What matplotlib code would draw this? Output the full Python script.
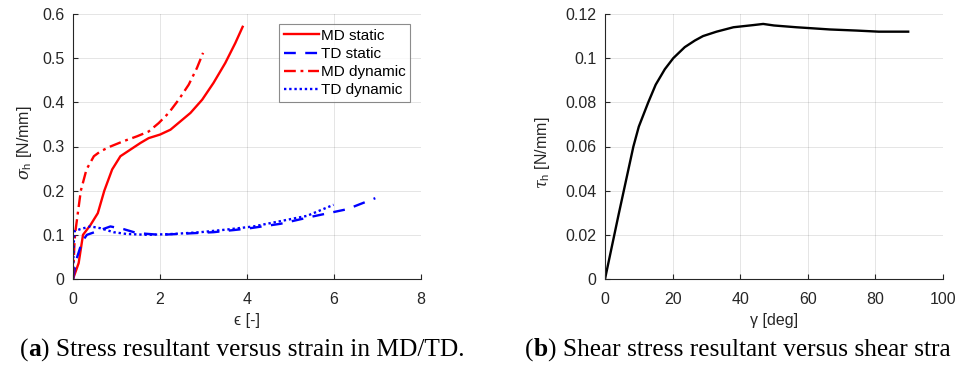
import matplotlib
matplotlib.use("Agg")
import matplotlib.pyplot as plt

# ---------------- data ----------------
md_static_x = [0, 0.13, 0.23, 0.40, 0.57, 0.72, 0.90, 1.09, 1.32, 1.55, 1.74, 2.0, 2.24, 2.47, 2.70, 2.97, 3.23, 3.50, 3.73, 3.90]
md_static_y = [0, 0.036, 0.100, 0.122, 0.149, 0.200, 0.248, 0.278, 0.293, 0.308, 0.319, 0.327, 0.338, 0.357, 0.376, 0.406, 0.444, 0.489, 0.534, 0.571]

md_dyn_x = [0, 0.03, 0.05, 0.18, 0.31, 0.48, 0.63, 0.86, 1.16, 1.47, 1.74, 1.97, 2.20, 2.43, 2.66, 2.85, 2.99]
md_dyn_y = [0, 0.074, 0.104, 0.200, 0.248, 0.278, 0.289, 0.300, 0.312, 0.323, 0.334, 0.353, 0.376, 0.406, 0.440, 0.478, 0.512]

td_static_x = [0, 0.077, 0.21, 0.32, 0.55, 0.86, 1.16, 1.47, 2.0, 2.62, 3.23, 4.0, 4.77, 5.53, 6.30, 6.95]
td_static_y = [0, 0.044, 0.085, 0.100, 0.108, 0.119, 0.113, 0.104, 0.100, 0.103, 0.106, 0.114, 0.125, 0.142, 0.158, 0.183]

td_dyn_x = [0, 0.015, 0.03, 0.17, 0.40, 0.63, 0.93, 1.23, 1.70, 2.31, 2.93, 3.54, 4.15, 4.77, 5.38, 5.99]
td_dyn_y = [0, 0.074, 0.108, 0.113, 0.119, 0.115, 0.106, 0.102, 0.100, 0.102, 0.106, 0.112, 0.119, 0.131, 0.143, 0.168]

shear_gamma = [0, 4, 8.4, 10, 12.8, 15, 17.7, 20.2, 23.6, 26.6, 29, 33, 38, 44, 46.8, 50, 56.6, 61.6, 66.5, 74.4, 81, 89.7]
shear_tau = [0, 0.029, 0.060, 0.069, 0.080, 0.088, 0.095, 0.100, 0.105, 0.108, 0.110, 0.112, 0.114, 0.115, 0.1155, 0.1148, 0.114, 0.1135, 0.113, 0.1125, 0.112, 0.112]

left_xticks = [0, 2, 4, 6, 8]
left_yticks = [0, 0.1, 0.2, 0.3, 0.4, 0.5, 0.6]
left_yticklabels = ["0", "0.1", "0.2", "0.3", "0.4", "0.5", "0.6"]
right_xticks = [0, 20, 40, 60, 80, 100]
right_yticks = [0, 0.02, 0.04, 0.06, 0.08, 0.10, 0.12]
right_yticklabels = ["0", "0.02", "0.04", "0.06", "0.08", "0.1", "0.12"]

legend_labels = ["MD static", "TD static", "MD dynamic", "TD dynamic"]

# ---------------- style ----------------
plt.rcParams['font.family'] = ['Liberation Sans', 'DejaVu Sans']
plt.rcParams['mathtext.fontset'] = 'custom'
plt.rcParams['mathtext.rm'] = 'Liberation Sans'
plt.rcParams['mathtext.it'] = 'DejaVu Serif:italic'
TXT = '#262626'

W, H = 968, 368
fig = plt.figure(figsize=(W / 100, H / 100), dpi=100)

def add_axes(x0, x1, y0, y1):
    return fig.add_axes([x0 / W, 1 - y1 / H, (x1 - x0) / W, (y1 - y0) / H])

def style(ax):
    for s in ['top', 'right']:
        ax.spines[s].set_visible(False)
    for s in ['left', 'bottom']:
        ax.spines[s].set_color(TXT)
        ax.spines[s].set_linewidth(0.8)
    ax.tick_params(direction='in', length=3.5, width=0.8, colors=TXT,
                   labelsize=11.5)
    ax.tick_params(axis='x', pad=9)
    ax.tick_params(axis='y', pad=6)
    ax.grid(True, color='#262626', alpha=0.12, linewidth=0.7)
    ax.set_axisbelow(True)

ax1 = add_axes(73, 421, 14, 279)
ax2 = add_axes(605, 943, 14, 279)
style(ax1)
style(ax2)

lw = 1.7
ax1.plot(md_static_x, md_static_y, color='red', lw=lw, ls='-', label=legend_labels[0])
ax1.plot(td_static_x, td_static_y, color='blue', lw=lw, ls=(0, (5, 4)), label=legend_labels[1])
ax1.plot(md_dyn_x, md_dyn_y, color='red', lw=lw, ls=(0, (5, 2, 1.2, 2)), label=legend_labels[2])
ax1.plot(td_dyn_x, td_dyn_y, color='blue', lw=lw, ls=(0, (1, 1.2)), label=legend_labels[3])
ax1.set_xlim(0, 8)
ax1.set_ylim(0, 0.6)
ax1.set_xticks(left_xticks)
ax1.set_xticklabels([str(t) for t in left_xticks])
ax1.set_yticks(left_yticks)
ax1.set_yticklabels(left_yticklabels)

leg = ax1.legend(loc='upper right', bbox_to_anchor=(410 / W, 1 - 24 / H),
                 bbox_transform=fig.transFigure, fontsize=11, frameon=True,
                 fancybox=False, handlelength=2.3, handletextpad=0.1,
                 labelspacing=0.28, borderpad=0.3, borderaxespad=0)
leg.get_frame().set_edgecolor('#6f6f6f')
leg.get_frame().set_linewidth(0.8)
for t in leg.get_texts():
    t.set_color('black')

ax1.set_xlabel('ϵ [-]', fontsize=11.5, color=TXT)
ax1.set_ylabel(r'$\sigma_{\mathrm{h}}$ [N/mm]', fontsize=11.5, color=TXT)
ax1.xaxis.label.set_va('center')
ax1.xaxis.set_label_coords(0.5, (279 - 320) / 265)
ax1.yaxis.label.set_va('center')
ax1.yaxis.set_label_coords((25 - 73) / 348, (279 - 143) / 265)

ax2.plot(shear_gamma, shear_tau, color='black', lw=lw)
ax2.set_xlim(0, 100)
ax2.set_ylim(0, 0.12)
ax2.set_xticks(right_xticks)
ax2.set_xticklabels([str(t) for t in right_xticks])
ax2.set_yticks(right_yticks)
ax2.set_yticklabels(right_yticklabels)
ax2.set_xlabel('γ [deg]', fontsize=11.5, color=TXT)
ax2.set_ylabel(r'$\tau_{\mathrm{h}}$ [N/mm]', fontsize=11.5, color=TXT)
ax2.xaxis.label.set_va('center')
ax2.xaxis.set_label_coords(0.5, (279 - 320) / 265)
ax2.yaxis.label.set_va('center')
ax2.yaxis.set_label_coords((543 - 605) / 338, (279 - 153) / 265)

# ---------------- captions ----------------
renderer = fig.canvas.get_renderer()
CAP_FONT = ['Liberation Serif', 'DejaVu Serif']
CAP_SIZE = 18.3

def caption(x_px, y_px, parts):
    x = x_px
    for txt, weight in parts:
        t = fig.text(x / W, 1 - y_px / H, txt, fontsize=CAP_SIZE, family=CAP_FONT,
                     fontweight=weight, va='center', ha='left', color='black')
        bb = t.get_window_extent(renderer=renderer)
        x += bb.width

caption(20, 350, [("(", 'normal'), ("a", 'bold'), (") Stress resultant versus strain in MD/TD.", 'normal')])
# the reference image crops this caption at its right edge after "stra"
caption(525, 350, [("(", 'normal'), ("b", 'bold'), (") Shear stress resultant versus shear stra", 'normal')])

fig.savefig('out.png', dpi=100)
